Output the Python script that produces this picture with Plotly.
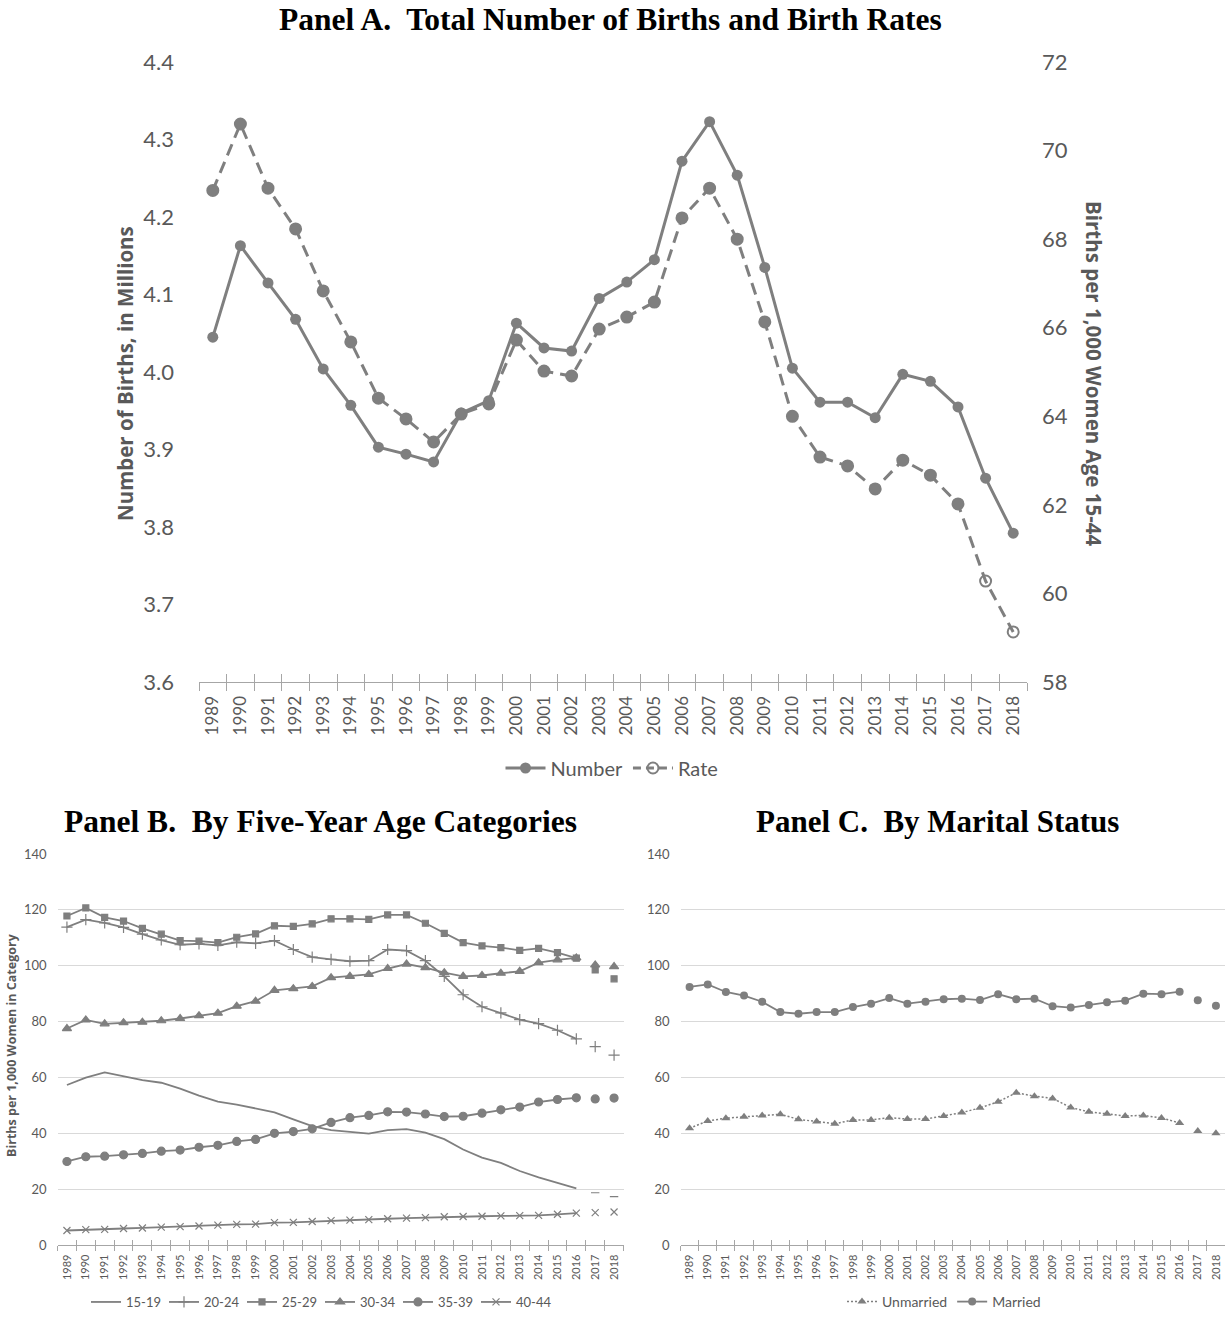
import plotly.graph_objects as go

# ---------------- data ----------------
years = list(range(1989, 2019))

births_millions = [4.045, 4.163, 4.115, 4.068, 4.004, 3.957, 3.903, 3.894, 3.884, 3.947,
                   3.963, 4.063, 4.031, 4.027, 4.095, 4.116, 4.145, 4.272, 4.323, 4.254,
                   4.135, 4.005, 3.961, 3.961, 3.941, 3.997, 3.988, 3.955, 3.863, 3.792]

rate_per_1000 = [69.1, 70.6, 69.15, 68.23, 66.83, 65.68, 64.41, 63.94, 63.42, 64.05,
                 64.28, 65.72, 65.02, 64.91, 65.97, 66.24, 66.58, 68.48, 69.15, 68.0,
                 66.13, 64.0, 63.08, 62.88, 62.36, 63.01, 62.67, 62.02, 60.28, 59.13]

age_15_19 = [57.3, 59.9, 61.8, 60.3, 59.0, 58.1, 56.0, 53.5, 51.3, 50.3,
             48.8, 47.5, 45.0, 42.6, 41.1, 40.5, 39.9, 41.1, 41.5, 40.2,
             37.9, 34.2, 31.3, 29.4, 26.5, 24.2, 22.3, 20.3, 18.7, 17.3]
age_20_24 = [113.8, 116.5, 115.3, 113.7, 111.3, 109.2, 107.5, 107.8, 107.3, 108.4,
             108.0, 109.0, 105.8, 103.1, 102.3, 101.6, 101.8, 105.8, 105.4, 101.8,
             96.2, 89.6, 85.3, 83.1, 80.7, 79.3, 76.9, 73.8, 71.0, 68.0]
age_25_29 = [117.8, 120.7, 117.3, 116.0, 113.4, 111.3, 109.0, 108.8, 108.3, 110.2,
             111.4, 114.3, 114.1, 115.0, 116.8, 116.8, 116.6, 118.2, 118.2, 115.2,
             111.6, 108.3, 107.1, 106.5, 105.5, 106.2, 104.7, 102.7, 98.5, 95.3]
age_30_34 = [77.5, 80.6, 79.2, 79.6, 79.8, 80.3, 81.1, 82.1, 83.0, 85.5,
             87.3, 91.2, 91.8, 92.6, 95.7, 96.2, 96.9, 99.0, 100.6, 99.3,
             97.5, 96.2, 96.5, 97.3, 98.0, 101.1, 102.1, 102.8, 100.3, 99.7]
age_35_39 = [29.9, 31.6, 31.8, 32.3, 32.8, 33.6, 34.0, 35.0, 35.7, 37.1,
             37.8, 40.0, 40.6, 41.6, 43.9, 45.6, 46.4, 47.7, 47.6, 46.9,
             46.0, 46.1, 47.2, 48.4, 49.4, 51.2, 52.1, 52.7, 52.3, 52.6]
age_40_44 = [5.2, 5.5, 5.6, 5.9, 6.1, 6.4, 6.6, 6.8, 7.1, 7.4,
             7.5, 8.0, 8.1, 8.4, 8.7, 8.9, 9.1, 9.4, 9.6, 9.8,
             10.1, 10.2, 10.3, 10.4, 10.5, 10.6, 11.0, 11.4, 11.6, 11.8]

unmarried = [41.8, 44.4, 45.4, 45.9, 46.4, 46.8, 45.0, 44.2, 43.4, 44.8,
             44.8, 45.6, 45.1, 45.1, 46.2, 47.4, 49.1, 51.3, 54.5, 53.3,
             52.5, 49.2, 47.7, 47.0, 46.2, 46.4, 45.5, 43.7, 40.8, 40.0]
married = [92.4, 93.3, 90.6, 89.3, 87.1, 83.4, 82.8, 83.4, 83.4, 85.2,
           86.4, 88.4, 86.4, 87.1, 88.0, 88.2, 87.7, 89.8, 88.0, 88.2,
           85.5, 85.0, 85.9, 86.9, 87.5, 90.0, 89.8, 90.7, 87.6, 85.7]

# ---------------- styling helpers ----------------
W, H = 1225, 1321
GREY = "#7f7f7f"
TXT = "#595959"
AXC = "#a6a6a6"
GRID = "#d9d9d9"
SANS = "Lato"
BOLD = "Open Sans"
SERIF = "Liberation Serif"


def fx(p):
    return p / W


def fy(p):
    return 1 - p / H


boundaries = [y - 0.5 for y in years] + [years[-1] + 0.5]
xr = [years[0] - 0.5, years[-1] + 0.5]
split = years.index(2017)  # 2017-2018 shown as separate markers in panels B & C

fig = go.Figure()

# ---------------- Panel A ----------------
fig.add_trace(go.Scatter(
    x=years, y=births_millions, name="Number", mode="lines+markers",
    line=dict(color=GREY, width=3), marker=dict(symbol="circle", size=11, color=GREY),
    xaxis="x", yaxis="y", legend="legend"))
rate_symbols = ["circle"] * split + ["circle-open"] * (len(years) - split)
fig.add_trace(go.Scatter(
    x=years, y=rate_per_1000, name="Rate", mode="lines+markers", showlegend=False,
    line=dict(color=GREY, width=3, dash="12px,7px"),
    marker=dict(symbol=rate_symbols, size=11, color=GREY, line=dict(color=GREY, width=2)),
    xaxis="x", yaxis="y2"))
fig.add_trace(go.Scatter(
    x=[None], y=[None], name="Rate", mode="lines+markers",
    line=dict(color=GREY, width=3, dash="8px,5px"),
    marker=dict(symbol="circle-open", size=11, color=GREY, line=dict(color=GREY, width=2)),
    xaxis="x", yaxis="y2", legend="legend"))

# ---------------- Panel B ----------------
age_series = [
    ("15-19", age_15_19, None, 0, "line-ew-open", 6),
    ("20-24", age_20_24, "cross-thin-open", 8, "cross-thin-open", 8),
    ("25-29", age_25_29, "square", 6, "square", 6),
    ("30-34", age_30_34, "triangle-up", 8, "triangle-up", 8),
    ("35-39", age_35_39, "circle", 8, "circle", 8),
    ("40-44", age_40_44, "x-thin-open", 7, "x-thin-open", 7),
]
for name, vals, sym, size, sym2, size2 in age_series:
    if sym is None:
        fig.add_trace(go.Scatter(
            x=years[:split], y=vals[:split], name=name, mode="lines",
            line=dict(color=GREY, width=1.8), xaxis="x2", yaxis="y3", legend="legend2"))
    else:
        fig.add_trace(go.Scatter(
            x=years[:split], y=vals[:split], name=name, mode="lines+markers",
            line=dict(color=GREY, width=1.8),
            marker=dict(symbol=sym, size=size, color=GREY, line=dict(color=GREY, width=1.2)),
            xaxis="x2", yaxis="y3", legend="legend2"))
    fig.add_trace(go.Scatter(
        x=years[split:], y=vals[split:], name=name, mode="markers", showlegend=False,
        marker=dict(symbol=sym2, size=size2, color=GREY, line=dict(color=GREY, width=1.2)),
        xaxis="x2", yaxis="y3"))

# ---------------- Panel C ----------------
fig.add_trace(go.Scatter(
    x=years[:split], y=unmarried[:split], name="Unmarried", mode="lines+markers",
    line=dict(color=GREY, width=1.5, dash="2px,2px"),
    marker=dict(symbol="triangle-up", size=8, color=GREY),
    xaxis="x3", yaxis="y4", legend="legend3"))
fig.add_trace(go.Scatter(
    x=years[split:], y=unmarried[split:], mode="markers", showlegend=False,
    marker=dict(symbol="triangle-up", size=8, color=GREY), xaxis="x3", yaxis="y4"))
fig.add_trace(go.Scatter(
    x=years[:split], y=married[:split], name="Married", mode="lines+markers",
    line=dict(color=GREY, width=1.8),
    marker=dict(symbol="circle", size=8, color=GREY),
    xaxis="x3", yaxis="y4", legend="legend3"))
fig.add_trace(go.Scatter(
    x=years[split:], y=married[split:], mode="markers", showlegend=False,
    marker=dict(symbol="circle", size=8, color=GREY), xaxis="x3", yaxis="y4"))

# empty traces that register overlay axes (upper half of crossing tick marks)
for xa_, ya_ in (("x4", "y"), ("x5", "y3"), ("x6", "y4")):
    fig.add_trace(go.Scatter(x=[], y=[], xaxis=xa_, yaxis=ya_, showlegend=False, hoverinfo="skip"))


def xaxis_main(domain, font_size, ticklen, standoff):
    return dict(
        domain=domain, range=xr, tickmode="array", tickvals=years,
        ticktext=[str(y) for y in years], ticks="", tickangle=-90, automargin=False,
        tickfont=dict(family=SANS, size=font_size, color=TXT),
        ticklabelstandoff=standoff,
        showline=True, linecolor=AXC, linewidth=1.3, showgrid=False, zeroline=False,
        minor=dict(tickmode="array", tickvals=boundaries, ticks="outside",
                   ticklen=ticklen, tickcolor=AXC, tickwidth=1.3, showgrid=False),
    )


def xaxis_over(over, anchor, ticklen):
    return dict(
        overlaying=over, anchor=anchor, range=xr, tickmode="array", tickvals=boundaries,
        ticks="inside", ticklen=ticklen, tickcolor=AXC, tickwidth=1.3, automargin=False,
        showticklabels=False, showline=False, showgrid=False, zeroline=False,
    )


xa = [fx(199), fx(1027)]
xb = [fx(57.5), fx(623.5)]
xc = [fx(680.5), fx(1225)]
ya = [fy(682), fy(62)]
yb = [fy(1245), fy(854)]

fig.update_layout(
    width=W, height=H, autosize=False,
    margin=dict(l=0, r=0, t=0, b=0, autoexpand=False),
    paper_bgcolor="white", plot_bgcolor="rgba(0,0,0,0)",
    font=dict(family=SANS, color=TXT),
    xaxis=dict(**xaxis_main(xa, 17, 8, 6), anchor="y"),
    xaxis4=xaxis_over("x", "y", 8),
    yaxis=dict(domain=ya, range=[3.6, 4.4], dtick=0.1, tick0=3.6, tickformat=".1f",
               anchor="x", showline=False, ticks="", showgrid=False, zeroline=False,
               automargin=False,
               tickfont=dict(family=SANS, size=22, color=TXT), ticklabelstandoff=24),
    yaxis2=dict(overlaying="y", side="right", anchor="x", range=[58, 72], dtick=2, tick0=58,
                showline=False, ticks="", showgrid=False, zeroline=False, automargin=False,
                tickfont=dict(family=SANS, size=22, color=TXT), ticklabelstandoff=14),
    xaxis2=dict(**xaxis_main(xb, 11, 5, 4), anchor="y3"),
    xaxis5=xaxis_over("x2", "y3", 5),
    yaxis3=dict(domain=yb, range=[0, 140], dtick=20, anchor="x2", showline=False, ticks="",
                showgrid=True, gridcolor=GRID, gridwidth=1, zeroline=False, automargin=False,
                tickfont=dict(family=SANS, size=13, color=TXT), ticklabelstandoff=10),
    xaxis3=dict(**xaxis_main(xc, 11, 5, 4), anchor="y4"),
    xaxis6=xaxis_over("x3", "y4", 5),
    yaxis4=dict(domain=yb, range=[0, 140], dtick=20, anchor="x3", showline=False, ticks="",
                showgrid=True, gridcolor=GRID, gridwidth=1, zeroline=False, automargin=False,
                tickfont=dict(family=SANS, size=13, color=TXT), ticklabelstandoff=10),
    legend=dict(orientation="h", x=fx(612), y=fy(768), xanchor="center", yanchor="middle",
                font=dict(family=SANS, size=20, color=TXT), bgcolor="rgba(0,0,0,0)",
                itemwidth=40, tracegroupgap=0),
    legend2=dict(orientation="h", x=fx(320), y=fy(1302), xanchor="center", yanchor="middle",
                 font=dict(family=SANS, size=13, color=TXT), bgcolor="rgba(0,0,0,0)",
                 itemwidth=30, entrywidth=33, entrywidthmode="pixels"),
    legend3=dict(orientation="h", x=fx(944), y=fy(1302), xanchor="center", yanchor="middle",
                 font=dict(family=SANS, size=14, color=TXT), bgcolor="rgba(0,0,0,0)",
                 itemwidth=30),
    showlegend=True,
)

NB = "\u00a0"
annotations = [
    dict(text=f"<b>Panel A.{NB} Total Number of Births and Birth Rates</b>",
         x=fx(610), y=fy(20), font=dict(family=SERIF, size=31.5, color="black")),
    dict(text=f"<b>Panel B.{NB} By Five-Year Age Categories</b>",
         x=fx(320), y=fy(822), font=dict(family=SERIF, size=31.5, color="black")),
    dict(text=f"<b>Panel C.{NB} By Marital Status</b>",
         x=fx(937), y=fy(822), font=dict(family=SERIF, size=31, color="black")),
    dict(text="<b>Number of Births, in Millions</b>", x=fx(125), y=fy(374), textangle=-90,
         font=dict(family=BOLD, size=20.5, color=TXT)),
    dict(text="<b>Births per 1,000 Women Age 15-44</b>", x=fx(1094), y=fy(373), textangle=90,
         font=dict(family=BOLD, size=20.5, color=TXT)),
    dict(text="<b>Births per 1,000 Women in Category</b>", x=fx(11), y=fy(1045), textangle=-90,
         font=dict(family=BOLD, size=12.5, color=TXT)),
]
for a in annotations:
    a.update(xref="paper", yref="paper", showarrow=False, xanchor="center", yanchor="middle")
fig.update_layout(annotations=annotations)

fig.write_html("out.html", config={"displayModeBar": False},
               post_script="document.body.style.margin='0';")
